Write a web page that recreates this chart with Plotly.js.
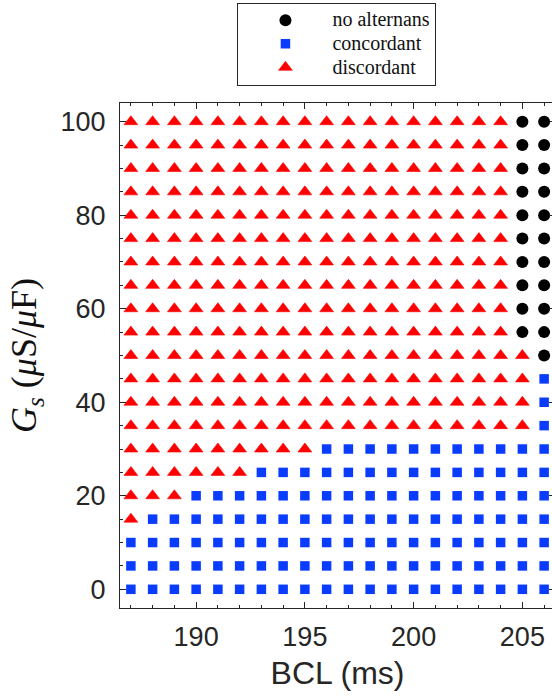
<!DOCTYPE html>
<html>
<head>
<meta charset="utf-8">
<script src="https://cdn.plot.ly/plotly-3.0.1.min.js"></script>
<style>
  html, body { margin: 0; padding: 0; overflow: hidden; background: #fff; }
  #chart { width: 560px; height: 700px; }
</style>
</head>
<body>
<div id="chart"></div>
<script>
// Basic cycle lengths (ms) sampled along x
const bcl = [187, 188, 189, 190, 191, 192, 193, 194, 195, 196,
             197, 198, 199, 200, 201, 202, 203, 204, 205, 206];
// Gs values (μS/μF) sampled along y
const gs = [0, 5, 10, 15, 20, 25, 30, 35, 40, 45, 50,
            55, 60, 65, 70, 75, 80, 85, 90, 95, 100];
// Regime at each (Gs, BCL) grid point, one string per Gs row (bottom to top):
// C = concordant, D = discordant, N = no alternans
const regimeRows = [
  "CCCCCCCCCCCCCCCCCCCC", // 0
  "CCCCCCCCCCCCCCCCCCCC", // 5
  "CCCCCCCCCCCCCCCCCCCC", // 10
  "DCCCCCCCCCCCCCCCCCCC", // 15
  "DDDCCCCCCCCCCCCCCCCC", // 20
  "DDDDDDCCCCCCCCCCCCCC", // 25
  "DDDDDDDDDCCCCCCCCCCC", // 30
  "DDDDDDDDDDDDDDDDDDDC", // 35
  "DDDDDDDDDDDDDDDDDDDC", // 40
  "DDDDDDDDDDDDDDDDDDDC", // 45
  "DDDDDDDDDDDDDDDDDDDN", // 50
  "DDDDDDDDDDDDDDDDDDNN", // 55
  "DDDDDDDDDDDDDDDDDDNN", // 60
  "DDDDDDDDDDDDDDDDDDNN", // 65
  "DDDDDDDDDDDDDDDDDDNN", // 70
  "DDDDDDDDDDDDDDDDDDNN", // 75
  "DDDDDDDDDDDDDDDDDDNN", // 80
  "DDDDDDDDDDDDDDDDDDNN", // 85
  "DDDDDDDDDDDDDDDDDDNN", // 90
  "DDDDDDDDDDDDDDDDDDNN", // 95
  "DDDDDDDDDDDDDDDDDDNN"  // 100
];
// Legend entries
const regimeCodes = ["N", "C", "D"];
const regimeNames = ["no alternans", "concordant", "discordant"];
const xTickVals = [190, 195, 200, 205];
const yTickVals = [0, 20, 40, 60, 80, 100];

const markerStyles = {
  N: { symbol: "circle", size: 12, color: "#000000", line: { width: 0 } },
  C: { symbol: "square", size: 9.5, color: "#0a3cff", line: { width: 0 } },
  D: { symbol: "triangle-up", size: 12, color: "#ff0000", line: { width: 0.6, color: "#ff0000" } }
};

const traces = regimeCodes.map((code, k) => {
  const xs = [], ys = [];
  regimeRows.forEach((row, i) => {
    for (let j = 0; j < bcl.length; j++) {
      if (row[j] === code) { xs.push(bcl[j]); ys.push(gs[i]); }
    }
  });
  return {
    type: "scatter", mode: "markers",
    // entry text is drawn a little larger than the row pitch implies
    name: '<span style="font-size:20px">' + regimeNames[k] + '</span>',
    x: xs, y: ys, marker: markerStyles[code], hoverinfo: "x+y"
  };
});

const axisColor = "#262626";
const tickFont = { family: "Liberation Sans, Arial, sans-serif", size: 27, color: "#262626" };

const layout = {
  width: 560, height: 700,
  margin: { l: 120, r: 5, t: 103, b: 92, autoexpand: false },
  paper_bgcolor: "#fff", plot_bgcolor: "#fff",
  showlegend: true,
  legend: {
    x: 0.27, xanchor: "left", y: 1.199, yanchor: "top",
    bordercolor: "#262626", borderwidth: 1, bgcolor: "#fff",
    itemwidth: 84, tracegroupgap: 0,
    font: { family: "Liberation Serif, Times New Roman, serif", size: 15.8, color: "#111" }
  },
  xaxis: {
    range: [186.5, 206.5], tickmode: "array", tickvals: xTickVals,
    ticks: "inside", ticklen: 6, tickwidth: 1, tickcolor: axisColor,
    minor: { dtick: 1, tick0: 0, ticks: "inside", ticklen: 3, tickcolor: axisColor, showgrid: false },
    showline: true, linecolor: axisColor, linewidth: 1, mirror: "ticks",
    showgrid: false, zeroline: false, tickfont: tickFont, ticklabelstandoff: 5,
    title: { text: "BCL (ms)", font: { family: "Liberation Sans, Arial, sans-serif", size: 32, color: "#262626" }, standoff: 10 }
  },
  yaxis: {
    range: [-4, 104], tickmode: "array", tickvals: yTickVals,
    ticks: "inside", ticklen: 6, tickwidth: 1, tickcolor: axisColor,
    minor: { dtick: 5, tick0: 0, ticks: "inside", ticklen: 3, tickcolor: axisColor, showgrid: false },
    showline: true, linecolor: axisColor, linewidth: 1, mirror: "ticks",
    showgrid: false, zeroline: false, tickfont: tickFont, ticklabelstandoff: 8,
    title: { text: "<i>G</i><sub><i>s</i></sub> (<i>μ</i>S/<i>μ</i>F)", font: { family: "Liberation Serif, Times New Roman, serif", size: 36, color: "#111" }, standoff: 12 }
  }
};

Plotly.newPlot("chart", traces, layout, { displayModeBar: false, staticPlot: true });
</script>
</body>
</html>
